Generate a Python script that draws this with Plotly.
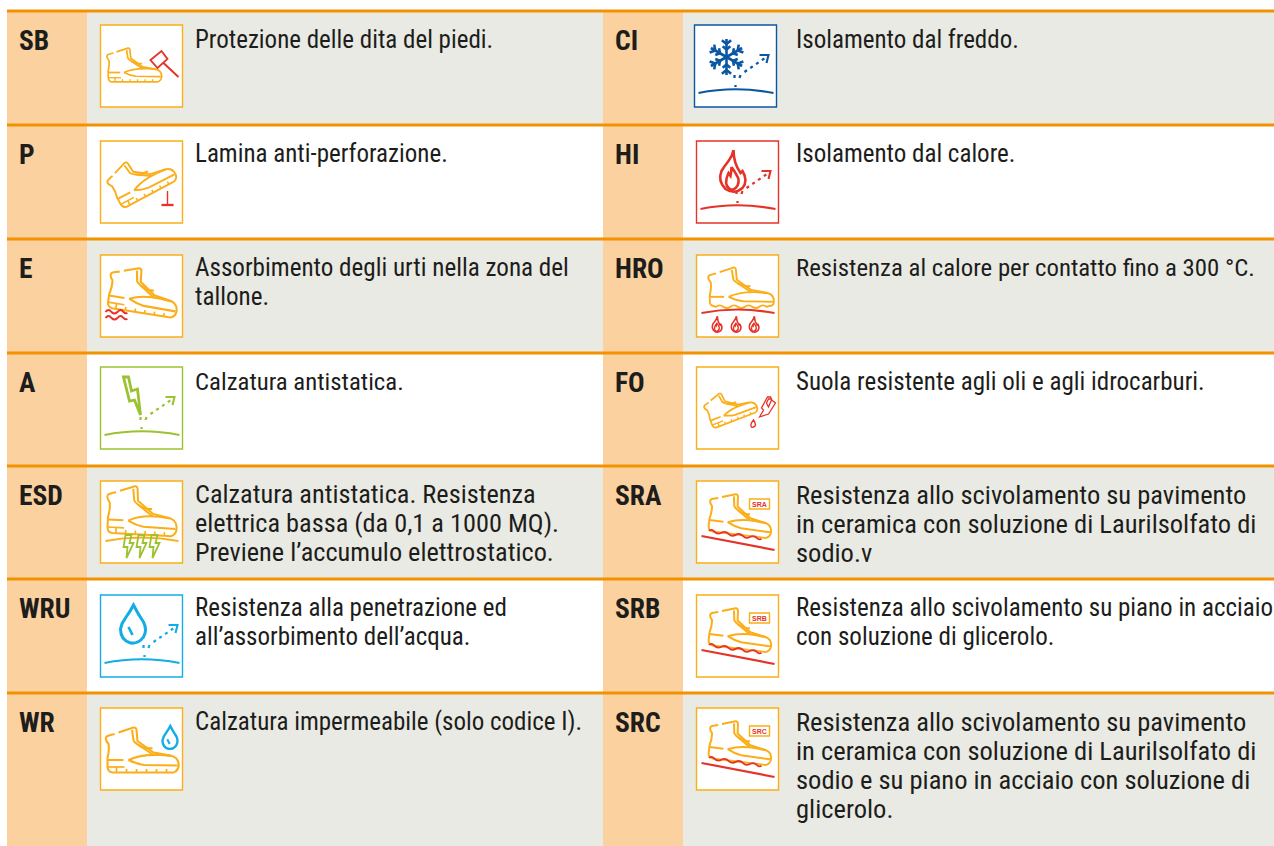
import math, re
import plotly.graph_objects as go

# ---------- content ----------
left_codes = ["SB", "P", "E", "A", "ESD", "WRU", "WR"]
right_codes = ["CI", "HI", "HRO", "FO", "SRA", "SRB", "SRC"]
left_texts = [
    ["Protezione delle dita del piedi."],
    ["Lamina anti-perforazione."],
    ["Assorbimento degli urti nella zona del", "tallone."],
    ["Calzatura antistatica."],
    ["Calzatura antistatica. Resistenza", "elettrica bassa (da 0,1 a 1000 MQ).", "Previene l’accumulo elettrostatico."],
    ["Resistenza alla penetrazione ed", "all’assorbimento dell’acqua."],
    ["Calzatura impermeabile (solo codice I)."],
]
right_texts = [
    ["Isolamento dal freddo."],
    ["Isolamento dal calore."],
    ["Resistenza al calore per contatto fino a 300 °C."],
    ["Suola resistente agli oli e agli idrocarburi."],
    ["Resistenza allo scivolamento su pavimento", "in ceramica con soluzione di Laurilsolfato di", "sodio.v"],
    ["Resistenza allo scivolamento su piano in acciaio", "con soluzione di glicerolo."],
    ["Resistenza allo scivolamento su pavimento", "in ceramica con soluzione di Laurilsolfato di", "sodio e su piano in acciaio con soluzione di", "glicerolo."],
]
row_edges = [11, 125, 239, 353, 466, 579, 693, 846]
icon_tops = [25, 141, 255, 367, 481, 595, 708]
left_sizes = [25, 25, 25.1, 24.8, 26.3, 25, 25]
right_sizes = [25, 25, 24.8, 25, 26.5, 25, 26.5]

# ---------- style ----------
PEACH, GREY, RULE, INK = "#FBD1A0", "#E9EAE3", "#F39200", "#1D1D1B"
AMBER, RED, BLUE, CYAN, GREEN = "#FBAE17", "#E53329", "#0B57A4", "#12ADE4", "#9CC230"
FONT = "Roboto Condensed"
ICON = 82

shapes, annotations = [], []

def rect(x0, y0, x1, y1, fill, line=None, width=0):
    shapes.append(dict(type="rect", xref="x", yref="y", x0=x0, y0=y0, x1=x1, y1=y1, fillcolor=fill,
                       line=dict(color=line or fill, width=width), layer="above"))

def stroke(path, ox, oy, color, width=1.6, scale=1.0, sy=1.0, rot=0.0, tx=0.0, ty=0.0, dash=None, fill=None):
    """Place a path drawn in icon-local pixels: scale and rotate about (40,40), then shift into the icon box."""
    c, s = math.cos(math.radians(rot)), math.sin(math.radians(rot))
    tok = re.findall(r"[A-Za-z]|-?\d+\.?\d*", path)
    out, i = [], 0
    while i < len(tok):
        if tok[i].isalpha():
            out.append(tok[i]); i += 1
        else:
            x, y = float(tok[i]) - 40, (float(tok[i + 1]) - 40) * sy
            X = (x * c - y * s) * scale + 40 + tx + ox
            Y = (x * s + y * c) * scale + 40 + ty + oy
            out.append(f"{X:.2f} {Y:.2f}"); i += 2
    shapes.append(dict(type="path", xref="x", yref="y", path=" ".join(out), layer="above",
                       fillcolor=fill or "rgba(0,0,0,0)", line=dict(color=color, width=width, dash=dash or "solid")))

BOOT_UPPER = [
    "M 18 24.5 L 33 19.5 Q 35.5 19 36 22 L 37 33 L 53 44.5 L 70 47.5 Q 77 49 78 55 Q 79 61 75 63.5 Q 73 65 70 64.5 L 12 64.5 Q 7 64 7 58 L 7 50 Q 9 42 8 36 Q 3 30 7 28 L 10 27 L 14 26",
    "M 31.5 22 L 33 32 Q 33 34 38 37 L 53 47",
    "M 38 37 Q 44 41 52 40",
    "M 7 52 L 23 52",
    "M 28 52 Q 41 46 60 47 L 71 48",
    "M 28 52 Q 36 56 44 57 L 77 57.5",
]
BOOT_WAVY = "M 18 24.5 L 33 19.5 Q 35.5 19 36 22 L 37 33 L 53 44.5 L 70 47.5 Q 77 49 78 55 Q 79 61 75 62 L 70 63 Q 66 60 62 63 Q 58 66 54 63 Q 50 60 46 63 Q 42 66 38 63 Q 34 60 30 63 Q 26 66 22 63 Q 18 60 14 63 Q 7 62 7 58 L 7 50 Q 9 42 8 36 Q 3 30 7 28 L 10 27 L 14 26"
BOOT_TREAD = ["M 7 59 L 24 59", "M 16 59 L 16 64", "M 26 61 L 26 64", "M 36 61 L 36 64",
              "M 46 61 L 46 64", "M 56 61 L 56 64", "M 66 61 L 66 64"]
RED_WAVE = "M 11 68 Q 14 65 17 68 Q 21 71 25 68 Q 29 65 33 68 Q 37 71 41 68 Q 45 65 49 68 Q 53 71 57 68 Q 61 65 65 68 Q 68 70 70 68"

def boot(ox, oy, color=AMBER, wavy=False, tread=True, **kw):
    w = kw.pop("width", 2.0)
    for p in BOOT_UPPER:
        if wavy and p.startswith("M 18"):
            p = BOOT_WAVY
        stroke(p, ox, oy, color, w, **kw)
    if tread and not wavy:
        for p in BOOT_TREAD:
            stroke(p, ox, oy, color, max(1.0, w - 0.4), **kw)

GROUND = "M 4 68 Q 41 60.5 79 68"
ARROW_D = ["M 41 62 L 41 60", "M 40 53 L 40 50", "M 45 53 L 46 50"]
ARROW_L = "M 50 47 L 72 32"
ARROW_H = "M 65 30 L 74 30 L 72 38"

def rebound(ox, oy, color, dx=0, dy=0):
    stroke(GROUND, ox, oy, color, 2.2, ty=dy)
    for p in ARROW_D:
        stroke(p, ox, oy, color, 2.3, tx=dx, ty=dy)
    stroke(ARROW_L, ox, oy, color, 2.3, tx=dx, ty=dy, dash="3px,4px")
    stroke(ARROW_H, ox, oy, color, 2.1, tx=dx, ty=dy)

FLAME_O = "M 37 9 Q 37 22 44 32 L 46 30 Q 52 40 46 47 Q 38 54 29 48 Q 21 40 25 30 Q 28 25 32 20 Q 36 15 37 9"
FLAME_I = "M 35 26 Q 40 33 42 38 Q 43 46 36 49 Q 28 47 30 38 Q 31 34 32 32 L 34 35 Q 35 30 35 26"
DROP_O = "M 33 10 Q 38 20 43 27 Q 47 35 43 42 Q 38 49 30 48 Q 20 45 20 34 Q 21 28 25 23 Q 30 16 33 10 Z"
BOLT = "M 2 0 L 8 0 L 6 8 L 10 8 L 3 23 L 4 12 L 0 12 Z"
BOLT_A = "M 23 10 L 28 10 L 31 24 L 37 22 L 40 48 L 34 33 L 29 34 Z"

def snowflake(ox, oy, color=BLUE):
    cx, cy, r = 32, 32, 18
    for k in range(6):
        a = math.radians(60 * k + 90)
        ca, sa = math.cos(a), math.sin(a)
        x1, y1 = cx + r * ca, cy - r * sa
        stroke(f"M {cx} {cy} L {x1:.2f} {y1:.2f}", ox, oy, color, 2.6)
        for f, l in ((0.72, 6), (0.42, 5)):
            bx, by = cx + r * f * ca, cy - r * f * sa
            for d in (-50, 50):
                b = a + math.radians(d)
                stroke(f"M {bx:.2f} {by:.2f} L {bx + l * math.cos(b):.2f} {by - l * math.sin(b):.2f}", ox, oy, color, 2.6)

def badge(ox, oy, code):
    rect(ox + 53, oy + 18, ox + 73, oy + 28, "#FFFFFF", AMBER, 1.4)
    annotations.append(dict(x=ox + 63, y=oy + 23, xref="x", yref="y", text=f"<b>{code}</b>", showarrow=False,
                            xanchor="center", yanchor="middle", font=dict(family="Liberation Sans", size=7, color=RED)))

def draw_icon(code, ox, oy):
    border = {"CI": BLUE, "HI": RED, "A": GREEN, "WRU": CYAN}.get(code, AMBER)
    rect(ox, oy, ox + ICON, oy + ICON, "#FFFFFF", border, 1.4)
    if code == "SB":
        boot(ox, oy, scale=0.75, tx=-7.5, ty=-1.5, width=1.7)
        stroke("M 50 35 L 61 26 L 67 34 L 57 43 Z", ox, oy, RED, 1.8)
        stroke("M 63 38 L 78 52", ox, oy, RED, 2)
    elif code == "P":
        boot(ox, oy, scale=0.88, rot=-28, tx=-2, ty=-5, width=1.9)
        stroke("M 67 50 L 67 63", ox, oy, RED, 1.4)
        stroke("M 61 64 L 73 64", ox, oy, RED, 2.3)
    elif code == "E":
        boot(ox, oy, scale=0.97, rot=9, tx=2, ty=-6, width=2.1)
        for dy in (0, 6):
            stroke("M 5 57 Q 8 53 11 57 Q 14 60 17 57 Q 20 53 23 57 Q 25 59 27 58", ox, oy + dy, RED, 1.9)
    elif code == "A":
        stroke(BOLT_A, ox, oy, GREEN, 2.8)
        rebound(ox, oy, GREEN)
    elif code == "ESD":
        boot(ox, oy, scale=0.97, sy=1.1, rot=3, ty=-12.6, width=2.0)
        stroke("M 5 60 Q 41 53 78 60", ox, oy, AMBER, 1.8)
        for bx in (23, 36, 49):
            stroke(BOLT, ox + bx, oy + 54, GREEN, 1.8)
    elif code == "WRU":
        stroke(DROP_O, ox, oy, CYAN, 3)
        stroke("M 28 32 L 32 40", ox, oy, CYAN, 2.6)
        rebound(ox, oy, CYAN, dx=3)
    elif code == "WR":
        boot(ox, oy, width=2.1)
        stroke(DROP_O, ox, oy, CYAN, 2.4, scale=0.6, tx=34, ty=-4)
        stroke("M 28 32 L 32 40", ox, oy, CYAN, 2, scale=0.6, tx=34, ty=-4)
    elif code == "CI":
        snowflake(ox, oy)
        rebound(ox, oy, BLUE)
    elif code == "HI":
        stroke(FLAME_O, ox, oy, RED, 2.6)
        stroke(FLAME_I, ox, oy, RED, 2.6)
        rebound(ox, oy, RED)
    elif code == "HRO":
        boot(ox, oy, wavy=True, scale=0.9, tx=3, ty=-9, width=1.9)
        stroke("M 5 58 Q 41 51 78 58", ox, oy, RED, 2.2)
        for fx in (9, 28, 46):
            stroke(FLAME_O, ox + fx, oy + 58, RED, 1.6, scale=0.38, tx=-27, ty=-25)
            stroke(FLAME_I, ox + fx, oy + 58, RED, 1.3, scale=0.38, tx=-27, ty=-25)
    elif code == "FO":
        boot(ox, oy, scale=0.68, rot=-21, tx=-8, ty=-2, width=1.7)
        stroke("M 63 50 L 72 47 L 79 36 L 75 33 L 72 40 L 70 36 L 72 32 L 75 32 L 74 30 L 71 30 L 65 41 L 67 43 Z", ox, oy, RED, 1.3)
        stroke("M 57 53 Q 53 58 55 60 Q 58 61 59 58 Q 59 56 57 53 Z", ox, oy, RED, 1.4)
    elif code in ("SRA", "SRB", "SRC"):
        boot(ox, oy, tread=False, scale=0.88, rot=7, tx=3, ty=-8, width=2.0)
        stroke(RED_WAVE, ox, oy, RED, 1.8, scale=0.9, rot=8.5, tx=2, ty=-11.2)
        stroke("M 5 55 L 78 69", ox, oy, RED, 2.2)
        badge(ox, oy, code)

def column(x0, x1, x_tag, x_code, x_icon, x_text, codes, texts, sizes):
    for i, code in enumerate(codes):
        top, bot = row_edges[i], row_edges[i + 1]
        rect(x0, top, x1, bot, GREY if i % 2 == 0 else "#FFFFFF")
        rect(x0, top, x_tag, bot, PEACH)
        annotations.append(dict(x=x_code, y=top + 29.5, xref="x", yref="y", text=f"<b>{code}</b>", showarrow=False,
                                xanchor="left", yanchor="middle", font=dict(family=FONT, size=27.5, color=INK)))
        ix = x_icon[i] if isinstance(x_icon, list) else x_icon
        draw_icon(code, ix, icon_tops[i])
        for j, line in enumerate(texts[i]):
            annotations.append(dict(x=x_text, y=top + 28 + j * 29.2, xref="x", yref="y", text=line, showarrow=False,
                                    xanchor="left", yanchor="middle", font=dict(family=FONT, size=sizes[i], color=INK)))

column(7, 603, 87, 16.5, 100.5, 193, left_codes, left_texts, left_sizes)
column(603, 1274, 683, 612.5, [694.5] + [696.5] * 6, 794, right_codes, right_texts, right_sizes)

for y in row_edges[:-1]:
    shapes.append(dict(type="line", xref="x", yref="y", x0=7, x1=1274, y0=y, y1=y,
                       line=dict(color=RULE, width=3), layer="above"))

fig = go.Figure()
fig.update_layout(
    width=1274, height=846, margin=dict(l=0, r=0, t=0, b=0),
    paper_bgcolor="#FFFFFF", plot_bgcolor="#FFFFFF", showlegend=False,
    xaxis=dict(range=[0, 1274], visible=False, fixedrange=True),
    yaxis=dict(range=[846, 0], visible=False, fixedrange=True),
    shapes=shapes, annotations=annotations,
)
fig.write_html("out.html", config=dict(displayModeBar=False, responsive=False),
               post_script="document.body.style.margin='0';document.documentElement.style.overflow='hidden';")
